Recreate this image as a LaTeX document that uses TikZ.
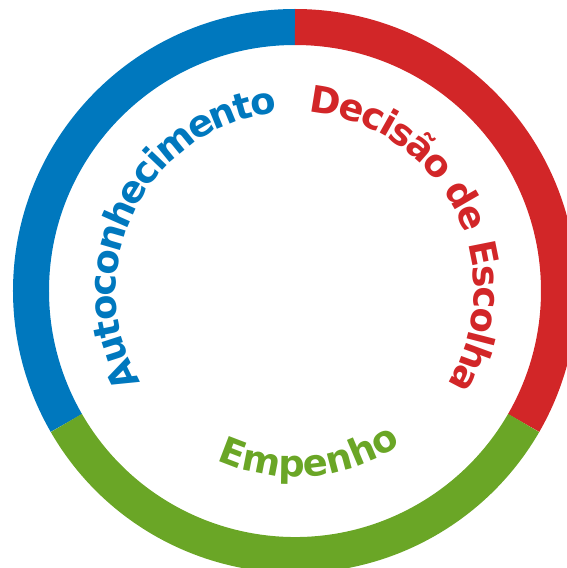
\documentclass[tikz,border=0pt]{standalone}
\usepackage{fontspec}
\setmainfont{DejaVu Sans}
\usetikzlibrary{decorations.text}

\definecolor{azul}{RGB}{0,120,190}
\definecolor{vermelho}{RGB}{210,38,40}
\definecolor{verde}{RGB}{106,166,38}

\newcommand{\letraanel}{\bfseries\fontsize{37}{37}\selectfont}

\tikzset{
  anel/.style={line width=36},
  rotulo/.style n args={3}{decorate,
    decoration={text along path, text align=center, text color=#1,
      raise=#2, text={|\letraanel|#3}}}
}

\begin{document}
\begin{tikzpicture}[x=1pt,y=1pt]
    \clip (-295,-277) rectangle (272,291);
    \useasboundingbox (-295,-277) rectangle (272,291);

    % the ring, three arcs
    \draw[anel, azul]     (90:264)  arc[start angle=90,  end angle=210, radius=264];
    \draw[anel, vermelho] (90:264)  arc[start angle=90,  end angle=-30, radius=264];
    \draw[anel, verde]    (210:264) arc[start angle=210, end angle=330, radius=264];

    % words along the inside
    \path[rotulo={azul}{-17}{Autoconhecimento}]
      (220:196) arc[start angle=220, end angle=86, radius=196];
    \path[rotulo={vermelho}{-17}{Decis{\symbol{227}}o de Escolha}]
      (94:196) arc[start angle=94, end angle=-40, radius=196];
    \path[rotulo={verde}{0}{Empenho}]
      (240:186) arc[start angle=240, end angle=310, radius=186];
\end{tikzpicture}
\end{document}
